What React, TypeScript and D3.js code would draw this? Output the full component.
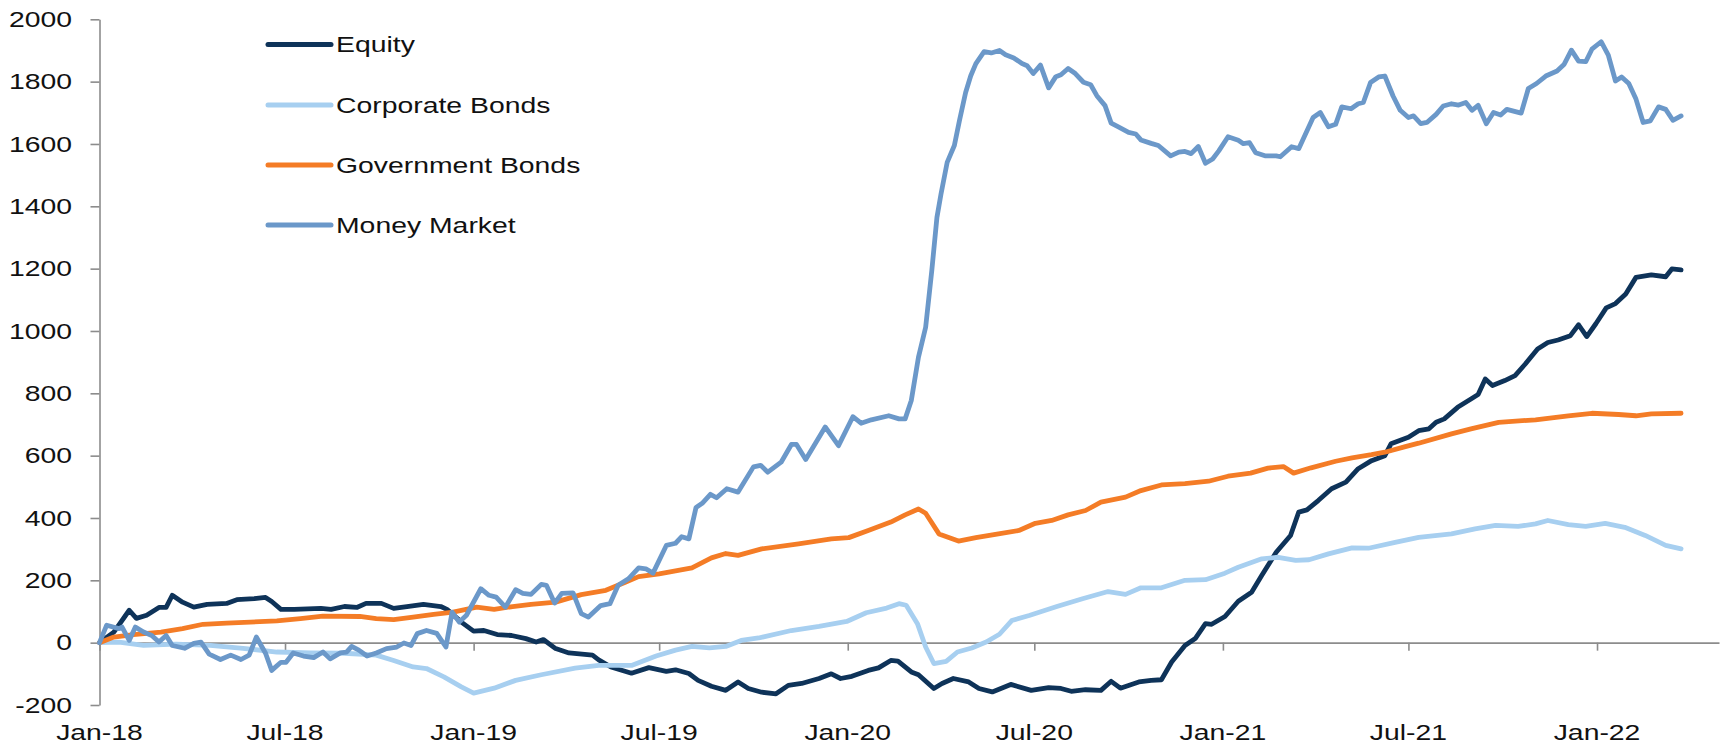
import * as d3 from "d3";
import React, { useEffect, useRef } from "react";

type Pt = [string, number];

const equity: Pt[] = [
  ["2018-01-01", 0], ["2018-01-15", 34], ["2018-01-30", 104], ["2018-02-06", 78], ["2018-02-16", 88],
  ["2018-02-28", 113], ["2018-03-07", 113], ["2018-03-13", 152], ["2018-03-23", 130], ["2018-04-03", 114],
  ["2018-04-16", 123], ["2018-05-05", 126], ["2018-05-15", 138], ["2018-06-01", 141], ["2018-06-12", 145],
  ["2018-06-18", 132], ["2018-06-27", 107], ["2018-07-10", 107], ["2018-08-05", 110], ["2018-08-15", 107],
  ["2018-08-28", 116], ["2018-09-09", 113], ["2018-09-18", 126], ["2018-10-03", 126], ["2018-10-15", 110],
  ["2018-10-28", 116], ["2018-11-13", 123], ["2018-11-30", 116], ["2018-12-06", 107], ["2018-12-20", 66],
  ["2019-01-01", 37], ["2019-01-11", 39], ["2019-01-24", 26], ["2019-02-07", 23], ["2019-02-21", 13],
  ["2019-03-03", 2], ["2019-03-10", 10], ["2019-03-22", -19], ["2019-04-04", -33], ["2019-04-27", -40],
  ["2019-05-03", -55], ["2019-05-15", -78], ["2019-06-04", -98], ["2019-06-21", -80], ["2019-07-08", -92],
  ["2019-07-17", -87], ["2019-07-30", -99], ["2019-08-08", -121], ["2019-08-21", -140], ["2019-09-04", -153],
  ["2019-09-16", -126], ["2019-09-26", -147], ["2019-10-09", -159], ["2019-10-23", -164], ["2019-11-04", -137],
  ["2019-11-17", -131], ["2019-12-04", -115], ["2019-12-16", -100], ["2019-12-25", -115], ["2020-01-05", -108],
  ["2020-01-21", -89], ["2020-01-31", -81], ["2020-02-12", -57], ["2020-02-19", -59], ["2020-03-03", -94],
  ["2020-03-10", -103], ["2020-03-25", -147], ["2020-04-02", -131], ["2020-04-13", -115], ["2020-04-28", -126],
  ["2020-05-08", -147], ["2020-05-21", -158], ["2020-06-08", -134], ["2020-06-28", -153], ["2020-07-15", -144],
  ["2020-07-27", -147], ["2020-08-06", -156], ["2020-08-20", -151], ["2020-09-04", -153], ["2020-09-14", -124],
  ["2020-09-23", -146], ["2020-10-11", -126], ["2020-10-23", -121], ["2020-11-02", -119], ["2020-11-12", -62],
  ["2020-11-25", -9], ["2020-12-05", 13], ["2020-12-15", 61], ["2020-12-21", 59], ["2021-01-03", 84],
  ["2021-01-16", 133], ["2021-01-29", 162], ["2021-02-08", 216], ["2021-02-22", 290], ["2021-03-08", 344],
  ["2021-03-16", 419], ["2021-03-24", 426], ["2021-04-04", 456], ["2021-04-17", 494], ["2021-05-01", 515],
  ["2021-05-13", 558], ["2021-05-26", 584], ["2021-06-08", 600], ["2021-06-14", 638], ["2021-07-01", 659],
  ["2021-07-11", 680], ["2021-07-21", 686], ["2021-07-28", 707], ["2021-08-05", 718], ["2021-08-18", 755],
  ["2021-08-31", 782], ["2021-09-07", 796], ["2021-09-14", 846], ["2021-09-21", 825], ["2021-10-03", 841],
  ["2021-10-13", 857], ["2021-10-23", 894], ["2021-11-04", 942], ["2021-11-14", 963], ["2021-11-24", 971],
  ["2021-12-06", 985], ["2021-12-14", 1020], ["2021-12-22", 982], ["2021-12-31", 1024], ["2022-01-10", 1074],
  ["2022-01-19", 1088], ["2022-01-29", 1119], ["2022-02-08", 1172], ["2022-02-23", 1180], ["2022-03-09", 1174],
  ["2022-03-15", 1199], ["2022-03-24", 1196],
];

const corporateBonds: Pt[] = [
  ["2018-01-01", 0], ["2018-01-20", 2], ["2018-02-13", -9], ["2018-03-17", -5], ["2018-04-19", -9],
  ["2018-05-21", -18], ["2018-06-23", -30], ["2018-07-26", -33], ["2018-08-28", -34], ["2018-09-28", -40],
  ["2018-10-15", -57], ["2018-11-03", -78], ["2018-11-16", -83], ["2018-12-03", -110], ["2018-12-20", -142],
  ["2019-01-01", -162], ["2019-01-21", -146], ["2019-02-11", -121], ["2019-03-08", -103], ["2019-04-10", -82],
  ["2019-05-03", -73], ["2019-06-04", -73], ["2019-06-28", -43], ["2019-07-17", -24], ["2019-08-02", -12],
  ["2019-08-19", -17], ["2019-09-04", -12], ["2019-09-19", 7], ["2019-10-06", 15], ["2019-11-07", 39],
  ["2019-12-04", 52], ["2019-12-31", 68], ["2020-01-19", 96], ["2020-02-08", 111], ["2020-02-20", 125],
  ["2020-02-27", 120], ["2020-03-09", 61], ["2020-03-17", -14], ["2020-03-25", -67], ["2020-04-06", -60],
  ["2020-04-17", -30], ["2020-05-01", -17], ["2020-05-15", 2], ["2020-05-28", 27], ["2020-06-09", 71],
  ["2020-06-26", 87], ["2020-07-23", 116], ["2020-08-17", 141], ["2020-09-11", 164], ["2020-09-28", 155],
  ["2020-10-13", 176], ["2020-11-02", 176], ["2020-11-25", 200], ["2020-12-15", 202], ["2021-01-03", 223],
  ["2021-01-16", 242], ["2021-02-08", 269], ["2021-02-24", 274], ["2021-03-13", 264], ["2021-03-26", 266],
  ["2021-04-14", 285], ["2021-05-07", 304], ["2021-05-23", 303], ["2021-06-18", 322], ["2021-07-11", 338],
  ["2021-08-12", 349], ["2021-09-04", 365], ["2021-09-24", 376], ["2021-10-16", 373], ["2021-11-02", 381],
  ["2021-11-14", 392], ["2021-12-04", 379], ["2021-12-21", 373], ["2022-01-09", 383], ["2022-01-28", 370],
  ["2022-02-17", 344], ["2022-03-09", 312], ["2022-03-24", 301],
];

const governmentBonds: Pt[] = [
  ["2018-01-01", 0], ["2018-01-15", 18], ["2018-02-03", 26], ["2018-03-02", 34], ["2018-03-23", 45],
  ["2018-04-12", 59], ["2018-05-05", 63], ["2018-05-28", 66], ["2018-06-23", 70], ["2018-07-16", 77],
  ["2018-08-07", 85], ["2018-09-12", 84], ["2018-09-28", 77], ["2018-10-15", 74], ["2018-11-03", 82],
  ["2018-11-23", 91], ["2018-12-12", 98], ["2019-01-04", 114], ["2019-01-21", 107], ["2019-02-08", 116],
  ["2019-02-26", 123], ["2019-03-22", 130], ["2019-04-16", 154], ["2019-05-10", 168], ["2019-05-29", 194],
  ["2019-06-11", 212], ["2019-07-01", 221], ["2019-08-02", 240], ["2019-08-21", 272], ["2019-09-04", 286],
  ["2019-09-16", 280], ["2019-10-09", 301], ["2019-11-14", 317], ["2019-12-16", 333], ["2020-01-02", 337],
  ["2020-01-21", 360], ["2020-02-12", 387], ["2020-02-26", 410], ["2020-03-10", 429], ["2020-03-17", 415],
  ["2020-03-30", 349], ["2020-04-18", 326], ["2020-05-05", 337], ["2020-05-27", 349], ["2020-06-16", 360],
  ["2020-07-02", 383], ["2020-07-18", 392], ["2020-08-03", 410], ["2020-08-20", 424], ["2020-09-04", 451],
  ["2020-09-28", 467], ["2020-10-13", 488], ["2020-11-02", 506], ["2020-11-25", 510], ["2020-12-18", 518],
  ["2021-01-06", 534], ["2021-01-28", 544], ["2021-02-14", 560], ["2021-03-01", 565], ["2021-03-11", 544],
  ["2021-03-28", 561], ["2021-04-21", 582], ["2021-05-07", 593], ["2021-05-26", 603], ["2021-06-08", 611],
  ["2021-06-28", 629], ["2021-07-11", 640], ["2021-08-12", 670], ["2021-08-31", 686], ["2021-09-27", 707],
  ["2021-11-02", 715], ["2021-12-04", 728], ["2021-12-27", 736], ["2022-01-22", 732], ["2022-02-08", 728],
  ["2022-02-23", 734], ["2022-03-24", 736],
];

const moneyMarket: Pt[] = [
  ["2018-01-01", 0], ["2018-01-08", 56], ["2018-01-20", 45], ["2018-01-23", 50], ["2018-01-30", 7],
  ["2018-02-05", 50], ["2018-02-13", 34], ["2018-02-21", 23], ["2018-02-28", 2], ["2018-03-07", 23],
  ["2018-03-13", -9], ["2018-03-25", -18], ["2018-04-03", -2], ["2018-04-10", 2], ["2018-04-18", -37],
  ["2018-04-29", -54], ["2018-05-09", -40], ["2018-05-19", -54], ["2018-05-27", -40], ["2018-06-03", 18],
  ["2018-06-12", -34], ["2018-06-18", -89], ["2018-06-27", -63], ["2018-07-02", -63], ["2018-07-09", -33],
  ["2018-07-19", -43], ["2018-07-29", -48], ["2018-08-07", -30], ["2018-08-14", -52], ["2018-08-24", -33],
  ["2018-08-30", -30], ["2018-09-04", -12], ["2018-09-11", -24], ["2018-09-19", -43], ["2018-09-28", -33],
  ["2018-10-08", -19], ["2018-10-18", -14], ["2018-10-25", -1], ["2018-11-01", -9], ["2018-11-07", 29],
  ["2018-11-16", 39], ["2018-11-26", 30], ["2018-12-05", -14], ["2018-12-11", 98], ["2018-12-18", 66],
  ["2018-12-25", 88], ["2019-01-08", 173], ["2019-01-16", 152], ["2019-01-23", 146], ["2019-02-01", 114],
  ["2019-02-11", 170], ["2019-02-18", 158], ["2019-02-26", 155], ["2019-03-08", 187], ["2019-03-13", 184],
  ["2019-03-21", 127], ["2019-03-28", 158], ["2019-04-08", 160], ["2019-04-16", 93], ["2019-04-23", 82],
  ["2019-05-05", 119], ["2019-05-14", 125], ["2019-05-22", 184], ["2019-06-01", 205], ["2019-06-11", 240],
  ["2019-06-18", 237], ["2019-06-25", 223], ["2019-07-08", 312], ["2019-07-17", 319], ["2019-07-23", 340],
  ["2019-07-30", 333], ["2019-08-06", 434], ["2019-08-12", 447], ["2019-08-20", 476], ["2019-08-26", 465],
  ["2019-09-05", 494], ["2019-09-16", 483], ["2019-10-01", 564], ["2019-10-08", 569], ["2019-10-15", 547],
  ["2019-10-28", 579], ["2019-11-07", 636], ["2019-11-12", 636], ["2019-11-21", 588], ["2019-12-10", 692],
  ["2019-12-23", 632], ["2020-01-06", 725], ["2020-01-14", 704], ["2020-01-24", 715], ["2020-02-10", 728],
  ["2020-02-20", 718], ["2020-02-26", 718], ["2020-03-03", 777], ["2020-03-10", 916], ["2020-03-17", 1012],
  ["2020-03-23", 1194], ["2020-03-28", 1364], ["2020-04-01", 1440], ["2020-04-07", 1541], ["2020-04-14", 1595],
  ["2020-04-19", 1675], ["2020-04-25", 1765], ["2020-04-30", 1819], ["2020-05-05", 1858], ["2020-05-13", 1896],
  ["2020-05-20", 1892], ["2020-05-28", 1900], ["2020-06-03", 1886], ["2020-06-11", 1876], ["2020-06-19", 1858],
  ["2020-06-24", 1851], ["2020-06-30", 1826], ["2020-07-07", 1853], ["2020-07-15", 1780], ["2020-07-22", 1816],
  ["2020-07-27", 1822], ["2020-08-03", 1842], ["2020-08-10", 1826], ["2020-08-18", 1798], ["2020-08-25", 1790],
  ["2020-08-31", 1755], ["2020-09-08", 1723], ["2020-09-14", 1667], ["2020-09-21", 1655], ["2020-10-01", 1637],
  ["2020-10-08", 1632], ["2020-10-13", 1613], ["2020-10-23", 1602], ["2020-10-30", 1595], ["2020-11-11", 1562],
  ["2020-11-19", 1574], ["2020-11-25", 1576], ["2020-12-01", 1569], ["2020-12-08", 1592], ["2020-12-15", 1538],
  ["2020-12-22", 1552], ["2020-12-28", 1578], ["2021-01-06", 1623], ["2021-01-16", 1612], ["2021-01-21", 1601],
  ["2021-01-27", 1604], ["2021-02-02", 1572], ["2021-02-11", 1562], ["2021-02-22", 1562], ["2021-02-26", 1559],
  ["2021-03-09", 1591], ["2021-03-16", 1585], ["2021-03-30", 1685], ["2021-04-06", 1701], ["2021-04-14", 1655],
  ["2021-04-21", 1663], ["2021-04-27", 1719], ["2021-05-06", 1713], ["2021-05-13", 1729], ["2021-05-18", 1733],
  ["2021-05-25", 1797], ["2021-06-02", 1815], ["2021-06-08", 1818], ["2021-06-16", 1754], ["2021-06-23", 1708],
  ["2021-07-01", 1685], ["2021-07-06", 1690], ["2021-07-13", 1665], ["2021-07-19", 1669], ["2021-07-28", 1695],
  ["2021-08-04", 1722], ["2021-08-12", 1729], ["2021-08-19", 1725], ["2021-08-26", 1733], ["2021-09-01", 1708],
  ["2021-09-07", 1724], ["2021-09-15", 1665], ["2021-09-22", 1701], ["2021-09-29", 1693], ["2021-10-05", 1711],
  ["2021-10-19", 1699], ["2021-10-26", 1778], ["2021-11-03", 1794], ["2021-11-12", 1818], ["2021-11-23", 1834],
  ["2021-11-30", 1856], ["2021-12-07", 1901], ["2021-12-14", 1866], ["2021-12-21", 1864], ["2021-12-27", 1904],
  ["2022-01-05", 1928], ["2022-01-12", 1885], ["2022-01-19", 1802], ["2022-01-25", 1815], ["2022-02-01", 1794],
  ["2022-02-08", 1744], ["2022-02-15", 1669], ["2022-02-22", 1674], ["2022-03-02", 1719], ["2022-03-09", 1711],
  ["2022-03-16", 1676], ["2022-03-24", 1690],
];

const seriesNames = ["Equity", "Corporate Bonds", "Government Bonds", "Money Market"];
const seriesColors = ["#0e3359", "#a7cff0", "#f47c26", "#6b98c9"];
const yTicks = [-200, 0, 200, 400, 600, 800, 1000, 1200, 1400, 1600, 1800, 2000];
const xTickLabels = ["Jan-18", "Jul-18", "Jan-19", "Jul-19", "Jan-20", "Jul-20", "Jan-21", "Jul-21", "Jan-22"];
const xDomain = ["2018-01-01", "2022-04-30"];

const W = 1727;
const H = 745;
const FONT = "'Liberation Sans', Arial, sans-serif";
const FONT_SIZE = 21.5;
const STRETCH = 1.32; // the source text is drawn wider than normal
const AXIS = "#8c8c8c";
const INK = "#111";

export default function App() {
  const svgRef = useRef<SVGSVGElement | null>(null);

  useEffect(() => {
    const svg = d3.select(svgRef.current);
    svg.selectAll("*").remove();

    const parse = d3.timeParse("%Y-%m-%d");
    const parseTick = d3.timeParse("%b-%y");

    const x = d3.scaleTime()
      .domain(xDomain.map(s => parse(s)!) as [Date, Date])
      .range([99.5, 1719]);
    const y = d3.scaleLinear().domain([-200, 2000]).range([705, 19.3]);

    svg.append("rect").attr("width", W).attr("height", H).attr("fill", "#fff");

    // y axis: line + ticks, labels drawn separately
    const yAxis = d3.axisLeft(y).tickValues(yTicks).tickSize(9).tickSizeOuter(0).tickFormat(() => "");
    const gy = svg.append("g").attr("transform", "translate(99.5,0)").call(yAxis);

    // x axis sits on the zero line, ticks hang down
    const tickDates = xTickLabels.map(s => parseTick(s)!);
    const xAxis = d3.axisBottom(x).tickValues(tickDates).tickSize(8).tickSizeOuter(0).tickFormat(() => "");
    const gx = svg.append("g").attr("transform", `translate(0,${y(0)})`).call(xAxis);

    [gy, gx].forEach(g => {
      g.selectAll(".domain, .tick line").attr("stroke", AXIS).attr("stroke-width", 1.6);
      g.selectAll(".tick text").remove();
    });

    svg.append("g").selectAll("text")
      .data(yTicks)
      .join("text")
      .attr("transform", d => `translate(72,${y(d)}) scale(${STRETCH},1)`)
      .attr("text-anchor", "end")
      .attr("dy", "0.36em")
      .attr("font-family", FONT)
      .attr("font-size", FONT_SIZE)
      .attr("fill", INK)
      .text(d => String(d));

    svg.append("g").selectAll("text")
      .data(xTickLabels)
      .join("text")
      .attr("transform", d => `translate(${x(parseTick(d)!)},740) scale(${STRETCH},1)`)
      .attr("text-anchor", "middle")
      .attr("font-family", FONT)
      .attr("font-size", FONT_SIZE)
      .attr("fill", INK)
      .text(d => d);

    // series, Equity first so Money Market ends up on top
    const all = [equity, corporateBonds, governmentBonds, moneyMarket];
    const line = d3.line<Pt>()
      .x(d => x(parse(d[0])!))
      .y(d => y(d[1]));

    svg.append("g").selectAll("path")
      .data(all)
      .join("path")
      .attr("d", d => line(d))
      .attr("fill", "none")
      .attr("stroke", (_, i) => seriesColors[i])
      .attr("stroke-width", 4.8)
      .attr("stroke-linejoin", "round")
      .attr("stroke-linecap", "round");

    // legend
    const rows = [44.5, 105, 165, 225];
    const lg = svg.append("g");
    seriesNames.forEach((name, i) => {
      lg.append("line")
        .attr("x1", 268).attr("x2", 331)
        .attr("y1", rows[i]).attr("y2", rows[i])
        .attr("stroke", seriesColors[i])
        .attr("stroke-width", 5)
        .attr("stroke-linecap", "round");
      lg.append("text")
        .attr("transform", `translate(336,${rows[i]}) scale(${STRETCH},1)`)
        .attr("dy", "0.36em")
        .attr("font-family", FONT)
        .attr("font-size", FONT_SIZE)
        .attr("fill", INK)
        .text(name);
    });
  }, []);

  return (
    <svg
      ref={svgRef}
      width={W}
      height={H}
      style={{ position: "absolute", left: 0, top: 0, display: "block" }}
    />
  );
}
